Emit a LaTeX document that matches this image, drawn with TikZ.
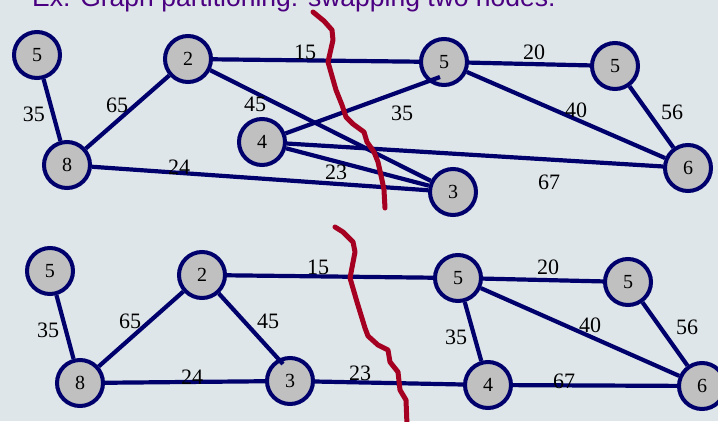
\documentclass[tikz,border=0pt]{standalone}
\usepackage{fontspec}
\setmainfont{Liberation Serif}
\newfontfamily\titlefont{Liberation Sans}
\definecolor{bgcol}{RGB}{223,230,233}
\definecolor{edgecol}{RGB}{0,0,108}
\definecolor{vtxfill}{RGB}{192,192,192}
\definecolor{cutred}{RGB}{165,0,33}
\definecolor{titlecol}{RGB}{75,0,130}

\begin{document}
\begin{tikzpicture}[x=1pt, y=-1pt,
    vtx/.style={circle, draw=edgecol, fill=vtxfill, line width=4pt,
        minimum size=46pt, inner sep=0pt, font=\fontsize{20}{20}\selectfont},
    edg/.style={draw=edgecol, line width=4.2pt},
    wt/.style={inner sep=0pt, font=\fontsize{22}{22}\selectfont},
    cut/.style={draw=cutred, line width=5pt, line join=round, line cap=round}]
    % pixel grid, y pointing down
    \fill[bgcol] (0,0) rectangle (718,421);
    \useasboundingbox (0,0) rectangle (718,421);

    % Title, cut off by the top edge
    \node[anchor=base west, inner sep=0pt, text=titlecol,
        font=\titlefont\fontsize{26.5}{26.5}\selectfont] (title) at (32,6)
        {Ex: Graph partitioning: swapping two nodes:};

    % Upper graph: before the swap
    \node[vtx] (t5a) at (37,55) {5};
    \node[vtx] (t8) at (67,165) {8};
    \node[vtx] (t2) at (188,59) {2};
    \node[vtx] (t4) at (262,142) {4};
    \node[vtx] (t5b) at (444,62) {5};
    \node[vtx] (t5c) at (615,66) {5};
    \node[vtx] (t6) at (688,168) {6};
    \node[vtx] (t3) at (453,192) {3};

    \draw[edg] (t5a) -- (t8);
    \draw[edg] (t8) -- (t2);
    \draw[edg] (t2) -- (t5b);
    \draw[edg] (t2) -- (t3);
    \draw[edg] (t4) -- ([shift={(-4,15)}]t5b.center);
    \draw[edg] (t4) -- (t6);
    \draw[edg] (t4) -- (t3);
    \draw[edg] (t8) -- (t3);
    \draw[edg] (t5b) -- (t5c);
    \draw[edg] (t5b) -- (t6);
    \draw[edg] (t5c) -- (t6);

    \node[wt] (tw35a) at (34,114) {35};
    \node[wt] (tw65) at (117,105) {65};
    \node[wt] (tw15) at (305,52) {15};
    \node[wt] (tw45) at (255,104) {45};
    \node[wt] (tw35b) at (402,113) {35};
    \node[wt] (tw24) at (179,167) {24};
    \node[wt] (tw23) at (336,172) {23};
    \node[wt] (tw67) at (549,182) {67};
    \node[wt] (tw20) at (534,52) {20};
    \node[wt] (tw40) at (576,110) {40};
    \node[wt] (tw56) at (672,112) {56};

    \draw[cut] (313,12) -- (324,21) -- (332,30) -- (333,40) -- (328,62)
        -- (336,90) -- (342,105) -- (346,117) -- (353,124) -- (364,132)
        -- (367,142) -- (374,152) -- (378,162) -- (382,180) -- (384,190)
        -- (385,208);

    % Lower graph: after the swap
    \node[vtx] (b5a) at (50,271) {5};
    \node[vtx] (b8) at (80,383) {8};
    \node[vtx] (b2) at (202,275) {2};
    \node[vtx] (b3) at (290,381) {3};
    \node[vtx] (b5b) at (458,278) {5};
    \node[vtx] (b5c) at (628,282) {5};
    \node[vtx] (b4) at (488,385) {4};
    \node[vtx] (b6) at (702,386) {6};

    \draw[edg] (b5a) -- (b8);
    \draw[edg] (b8) -- (b2);
    \draw[edg] (b2) -- ([shift={(-7,-17)}]b3.center);
    \draw[edg] (b2) -- (b5b);
    \draw[edg] (b8) -- (b3);
    \draw[edg] (b3) -- (b4);
    \draw[edg] (b5b) -- (b5c);
    \draw[edg] (b5b) -- (b4);
    \draw[edg] (b5b) -- (b6);
    \draw[edg] (b5c) -- (b6);
    \draw[edg] (b4) -- (b6);

    \node[wt] (bw35a) at (48,330) {35};
    \node[wt] (bw65) at (130,321) {65};
    \node[wt] (bw45) at (268,321) {45};
    \node[wt] (bw15) at (318,267) {15};
    \node[wt] (bw24) at (192,377) {24};
    \node[wt] (bw23) at (360,373) {23};
    \node[wt] (bw20) at (548,267) {20};
    \node[wt] (bw35b) at (456,337) {35};
    \node[wt] (bw40) at (590,325) {40};
    \node[wt] (bw56) at (687,327) {56};
    \node[wt] (bw67) at (564,381) {67};

    \draw[cut] (335,227) -- (343,232) -- (353,242) -- (355,252) -- (350,278)
        -- (357,302) -- (365,328) -- (368,336) -- (378,345) -- (388,350)
        -- (390,362) -- (398,372) -- (400,390) -- (406,400) -- (407,425);
\end{tikzpicture}
\end{document}
